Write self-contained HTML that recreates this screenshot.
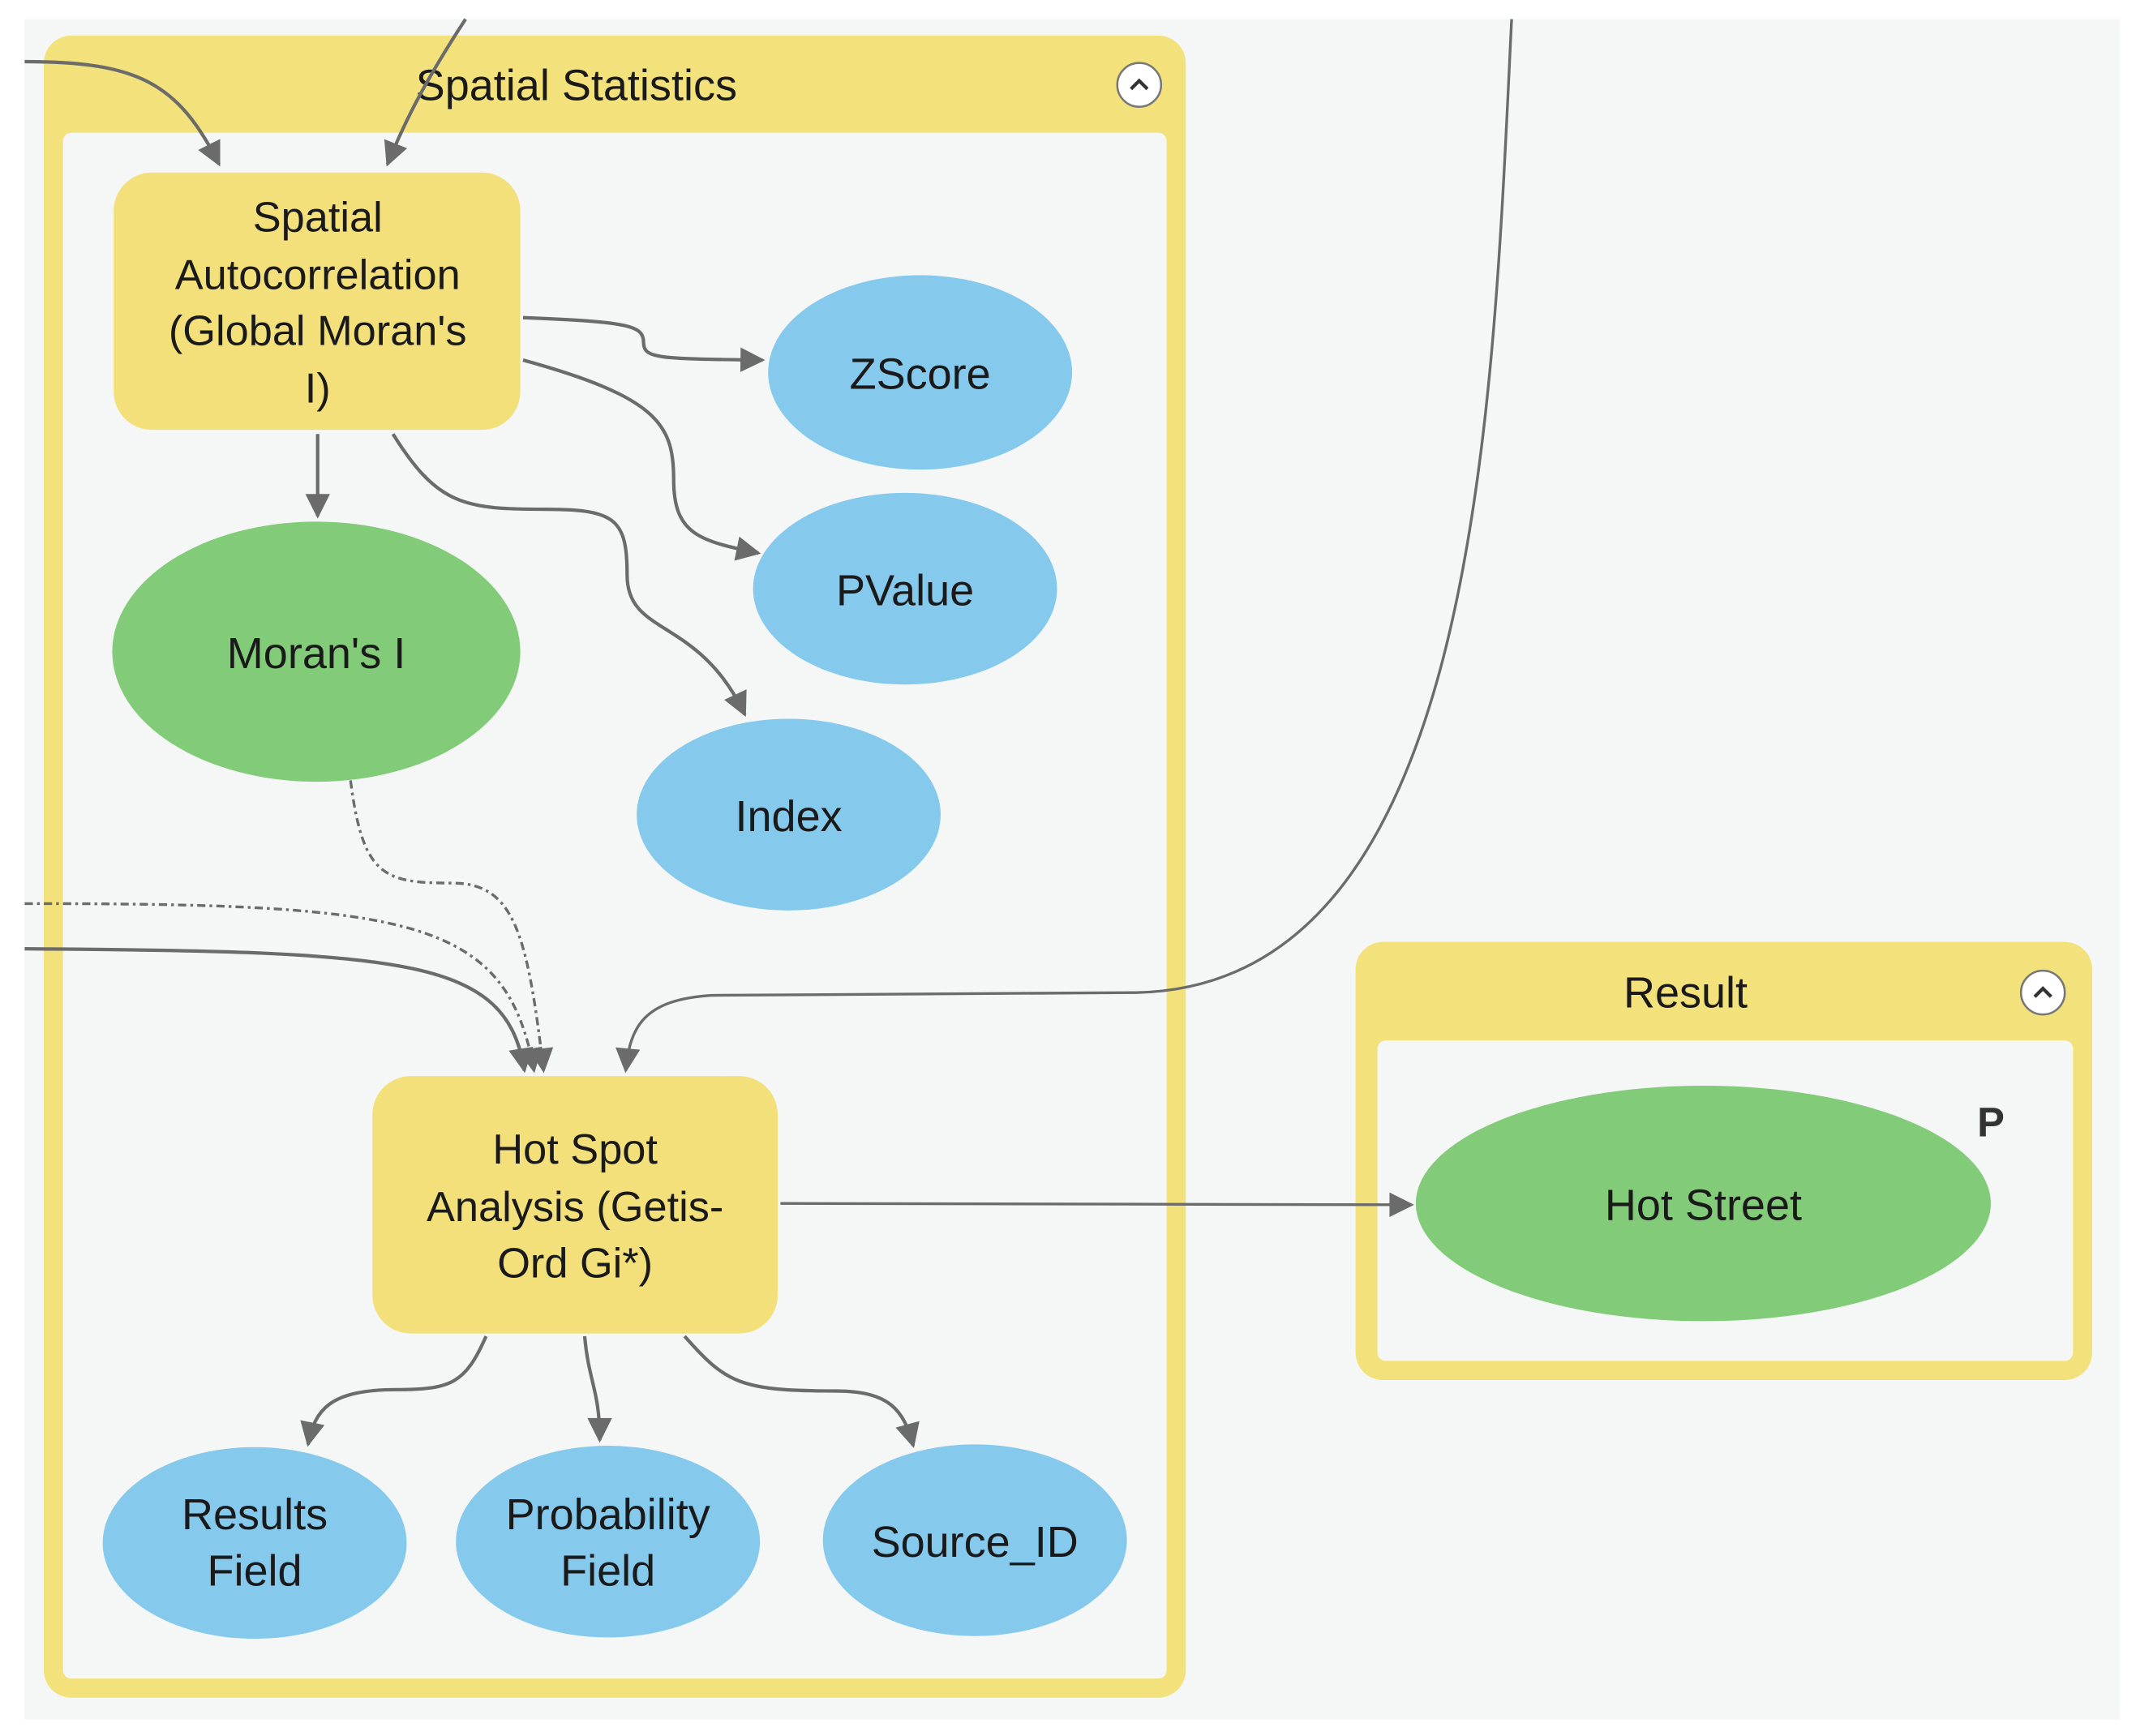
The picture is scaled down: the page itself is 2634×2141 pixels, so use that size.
<!DOCTYPE html>
<html><head><meta charset="utf-8"><style>
html,body{margin:0;padding:0;background:#fff;}
svg{display:block;}
text{font-family:"Liberation Sans",Arial,sans-serif;fill:#1a1a1a;}
</style></head><body>
<svg width="2634" height="2141" viewBox="0 0 1560 1268" preserveAspectRatio="none" xmlns="http://www.w3.org/2000/svg">
<defs>
<marker id="a" viewBox="0 0 10 10" refX="9" refY="5" markerWidth="8" markerHeight="8" markerUnits="userSpaceOnUse" orient="auto">
<path d="M0,0 L10,5 L0,10 z" fill="#6b6b6b"/></marker>
<marker id="b" viewBox="0 0 10 10" refX="9" refY="5" markerWidth="22" markerHeight="18" markerUnits="userSpaceOnUse" orient="auto">
<path d="M0,0 L10,5 L0,10 z" fill="#6b6b6b"/></marker>
</defs>
<rect x="0" y="0" width="1560" height="1268" fill="#fff"/>
<rect x="18" y="14" width="1530" height="1242" fill="#f5f7f7"/>

<!-- Spatial Statistics group -->
<rect x="32" y="26" width="834" height="1214" rx="20" fill="#f3e27b"/>
<rect x="46" y="97" width="806" height="1129" rx="6" fill="#f5f7f7"/>
<text x="421" y="73" font-size="32" text-anchor="middle">Spatial Statistics</text>
<circle cx="832" cy="62" r="16" fill="#fff" stroke="#777" stroke-width="1.5"/>
<path d="M826,65 L832,59 L838,65" fill="none" stroke="#333" stroke-width="2.5"/>

<!-- Result group -->
<rect x="990" y="688" width="538" height="320" rx="20" fill="#f3e27b"/>
<rect x="1006" y="760" width="508" height="234" rx="6" fill="#f5f7f7"/>
<text x="1231" y="736" font-size="32" text-anchor="middle">Result</text>
<circle cx="1492" cy="725" r="16" fill="#fff" stroke="#777" stroke-width="1.5"/>
<path d="M1486,728 L1492,722 L1498,728" fill="none" stroke="#333" stroke-width="2.5"/>

<!-- connectors -->
<g fill="none" stroke="#6b6b6b" stroke-width="2.5">
<path d="M18,45 C100,45 130,60 160,120" marker-end="url(#b)"/>
<path d="M340,14 C310,60 295,90 283,120" marker-end="url(#b)"/>
<path d="M382,232 C460,235 470,238 470,250 C470,262 480,262 557,263" marker-end="url(#b)"/>
<path d="M382,263 C480,290 492,310 492,350 C492,390 510,395 554,404" marker-end="url(#b)"/>
<path d="M287,317 C320,370 340,372 400,372 C450,372 458,380 458,420 C458,465 510,450 544,522" marker-end="url(#b)"/>
<path d="M232,317 L232,377" marker-end="url(#b)"/>
<path d="M256,570 C265,640 280,645 330,645 C375,645 385,680 397,782" stroke-dasharray="6,3,2,3" stroke-width="2" marker-end="url(#b)"/>
<path d="M18,660 C300,660 370,670 390,782" stroke-dasharray="6,3,2,3" stroke-width="2" marker-end="url(#b)"/>
<path d="M18,693 C300,695 370,700 383,782" marker-end="url(#b)"/>
<path d="M1104,14 C1090,300 1080,720 830,725 L520,727 C470,730 460,750 457,782" stroke-width="2" marker-end="url(#b)"/>
<path d="M570,879 L1031,880" stroke-width="2" marker-end="url(#b)"/>
<path d="M355,976 C340,1010 330,1015 290,1015 C240,1015 230,1030 225,1055" marker-end="url(#b)"/>
<path d="M427,976 C430,1010 438,1015 438,1052" marker-end="url(#b)"/>
<path d="M500,976 C530,1010 540,1016 610,1016 C650,1016 660,1030 667,1056" marker-end="url(#b)"/>
</g>

<!-- nodes -->
<rect x="83" y="126" width="297" height="188" rx="28" fill="#f3e07b"/>
<g font-size="31" text-anchor="middle">
<text x="232" y="169">Spatial</text>
<text x="232" y="211">Autocorrelation</text>
<text x="232" y="252">(Global Moran's</text>
<text x="232" y="294">I)</text>
</g>
<ellipse cx="231" cy="476" rx="149" ry="95" fill="#82cb78"/>
<text x="231" y="488" font-size="32" text-anchor="middle">Moran's I</text>
<ellipse cx="672" cy="272" rx="111" ry="71" fill="#85c9ec"/>
<text x="672" y="284" font-size="32" text-anchor="middle">ZScore</text>
<ellipse cx="661" cy="430" rx="111" ry="70" fill="#85c9ec"/>
<text x="661" y="442" font-size="32" text-anchor="middle">PValue</text>
<ellipse cx="576" cy="595" rx="111" ry="70" fill="#85c9ec"/>
<text x="576" y="607" font-size="32" text-anchor="middle">Index</text>

<rect x="272" y="786" width="296" height="188" rx="28" fill="#f3e07b"/>
<g font-size="31" text-anchor="middle">
<text x="420" y="850">Hot Spot</text>
<text x="420" y="892">Analysis (Getis-</text>
<text x="420" y="933">Ord Gi*)</text>
</g>

<ellipse cx="186" cy="1127" rx="111" ry="70" fill="#85c9ec"/>
<text x="186" y="1117" font-size="32" text-anchor="middle">Results</text>
<text x="186" y="1158" font-size="32" text-anchor="middle">Field</text>
<ellipse cx="444" cy="1126" rx="111" ry="70" fill="#85c9ec"/>
<text x="444" y="1117" font-size="32" text-anchor="middle">Probability</text>
<text x="444" y="1158" font-size="32" text-anchor="middle">Field</text>
<ellipse cx="712" cy="1125" rx="111" ry="70" fill="#85c9ec"/>
<text x="712" y="1137" font-size="32" text-anchor="middle">Source_ID</text>

<ellipse cx="1244" cy="879" rx="210" ry="86" fill="#82cb78"/>
<text x="1244" y="891" font-size="32" text-anchor="middle">Hot Street</text>
<text x="1454" y="830" font-size="30" font-weight="bold" text-anchor="middle" style="fill:#333">P</text>
</svg>
</body></html>
